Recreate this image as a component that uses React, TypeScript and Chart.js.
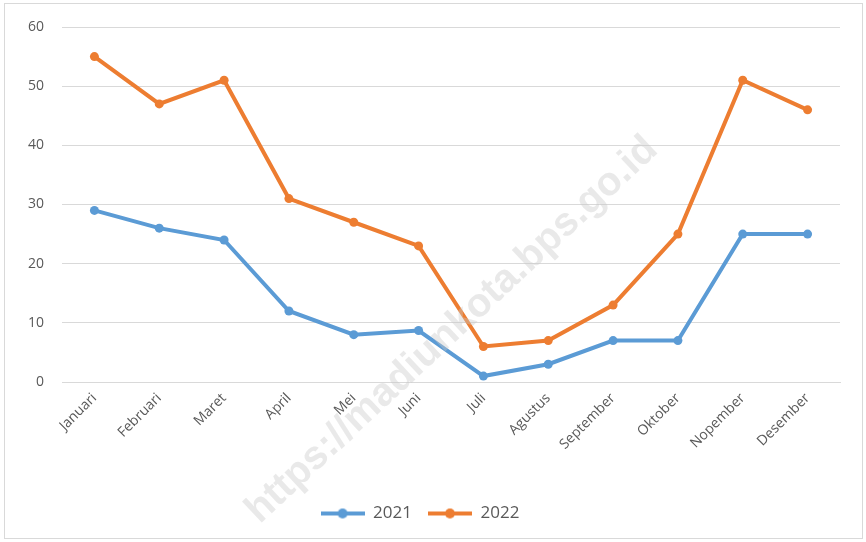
import React, { useEffect, useRef } from "react";
import { Chart, registerables } from "chart.js";

Chart.register(...registerables);

const categories = ["Januari", "Februari", "Maret", "April", "Mei", "Juni", "Juli", "Agustus", "September", "Oktober", "Nopember", "Desember"];
const series2021 = [29, 26, 24, 12, 8, 8.7, 1, 3, 7, 7, 25, 25];
const series2022 = [55, 47, 51, 31, 27, 23, 6, 7, 13, 25, 51, 46];
const seriesNames = ["2021", "2022"];
const yTicks = [0, 10, 20, 30, 40, 50, 60];
const watermark = "https://madiunkota.bps.go.id";

const BLUE = "#5B9BD5";
const ORANGE = "#ED7D31";
const FONT = "'Open Sans', 'Liberation Sans', sans-serif";

function legendIcon(color: string) {
  const c = document.createElement("canvas");
  c.width = 44;
  c.height = 12;
  const g = c.getContext("2d")!;
  g.strokeStyle = color;
  g.lineWidth = 4;
  g.beginPath();
  g.moveTo(0, 6);
  g.lineTo(44, 6);
  g.stroke();
  g.fillStyle = color;
  g.beginPath();
  g.arc(22, 6, 5, 0, Math.PI * 2);
  g.fill();
  return c;
}

export default function App() {
  const ref = useRef<HTMLCanvasElement>(null);
  useEffect(() => {
    document.body.style.margin = "0";
    const icons = [legendIcon(BLUE), legendIcon(ORANGE)];
    const watermarkPlugin = {
      id: "watermark",
      afterDatasetsDraw(chart: any) {
        const ctx = chart.ctx;
        ctx.save();
        ctx.translate(452, 330);
        ctx.rotate(-43 * Math.PI / 180);
        ctx.font = "bold 40px 'Liberation Sans', Arial, sans-serif";
        ctx.fillStyle = "rgba(200,200,200,0.4)";
        ctx.textAlign = "center";
        ctx.textBaseline = "middle";
        ctx.fillText(watermark, 0, 0);
        ctx.restore();
      },
    };
    const chart = new Chart(ref.current!, {
      type: "line",
      data: {
        labels: categories,
        datasets: [
          {
            label: seriesNames[0],
            data: series2021,
            borderColor: BLUE,
            backgroundColor: BLUE,
            borderWidth: 4,
            pointRadius: 4.5,
            pointBorderWidth: 0,
            pointStyle: "circle",
          },
          {
            label: seriesNames[1],
            data: series2022,
            borderColor: ORANGE,
            backgroundColor: ORANGE,
            borderWidth: 4,
            pointRadius: 4.5,
            pointBorderWidth: 0,
            pointStyle: "circle",
          },
        ],
      },
      options: {
        animation: false,
        responsive: false,
        maintainAspectRatio: false,
        layout: { padding: { top: 27, right: 26, left: 0, bottom: 10 } },
        plugins: {
          tooltip: { enabled: false },
          legend: {
            position: "bottom",
            labels: {
              usePointStyle: true,
              pointStyleWidth: 44,
              color: "#595959",
              font: { family: FONT, size: 17 },
              padding: 16,
              generateLabels: (chart: any) =>
                chart.data.datasets.map((ds: any, i: number) => ({
                  text: ds.label,
                  pointStyle: icons[i],
                  fillStyle: ds.borderColor,
                  strokeStyle: ds.borderColor,
                  lineWidth: 0,
                  hidden: false,
                  datasetIndex: i,
                  fontColor: "#595959",
                })),
            },
          },
        },
        scales: {
          x: {
            offset: true,
            grid: { display: false, drawTicks: false },
            border: { display: true, color: "#d9d9d9", width: 1 },
            ticks: {
              color: "#595959",
              font: { family: FONT, size: 14 },
              maxRotation: 45,
              minRotation: 45,
              padding: 8,
              autoSkip: false,
            },
            afterFit: (s: any) => { s.height = 107; },
          },
          y: {
            min: 0,
            max: 60,
            afterBuildTicks: (s: any) => { s.ticks = yTicks.map((v) => ({ value: v })); },
            grid: { color: "#d9d9d9", drawTicks: false },
            border: { display: false },
            ticks: {
              color: "#595959",
              font: { family: FONT, size: 14 },
              padding: 18,
            },
            afterFit: (s: any) => { s.width = 62; },
          },
        },
      },
      plugins: [watermarkPlugin],
    });
    return () => chart.destroy();
  }, []);
  return (
    <div style={{ position: "absolute", left: 0, top: 0, width: 866, height: 542 }}>
      <canvas ref={ref} width={866} height={542} style={{ display: "block" }} />
      <div style={{ position: "absolute", left: 4, top: 3, width: 857, height: 534, border: "1px solid #d9d9d9", pointerEvents: "none" }} />
    </div>
  );
}
